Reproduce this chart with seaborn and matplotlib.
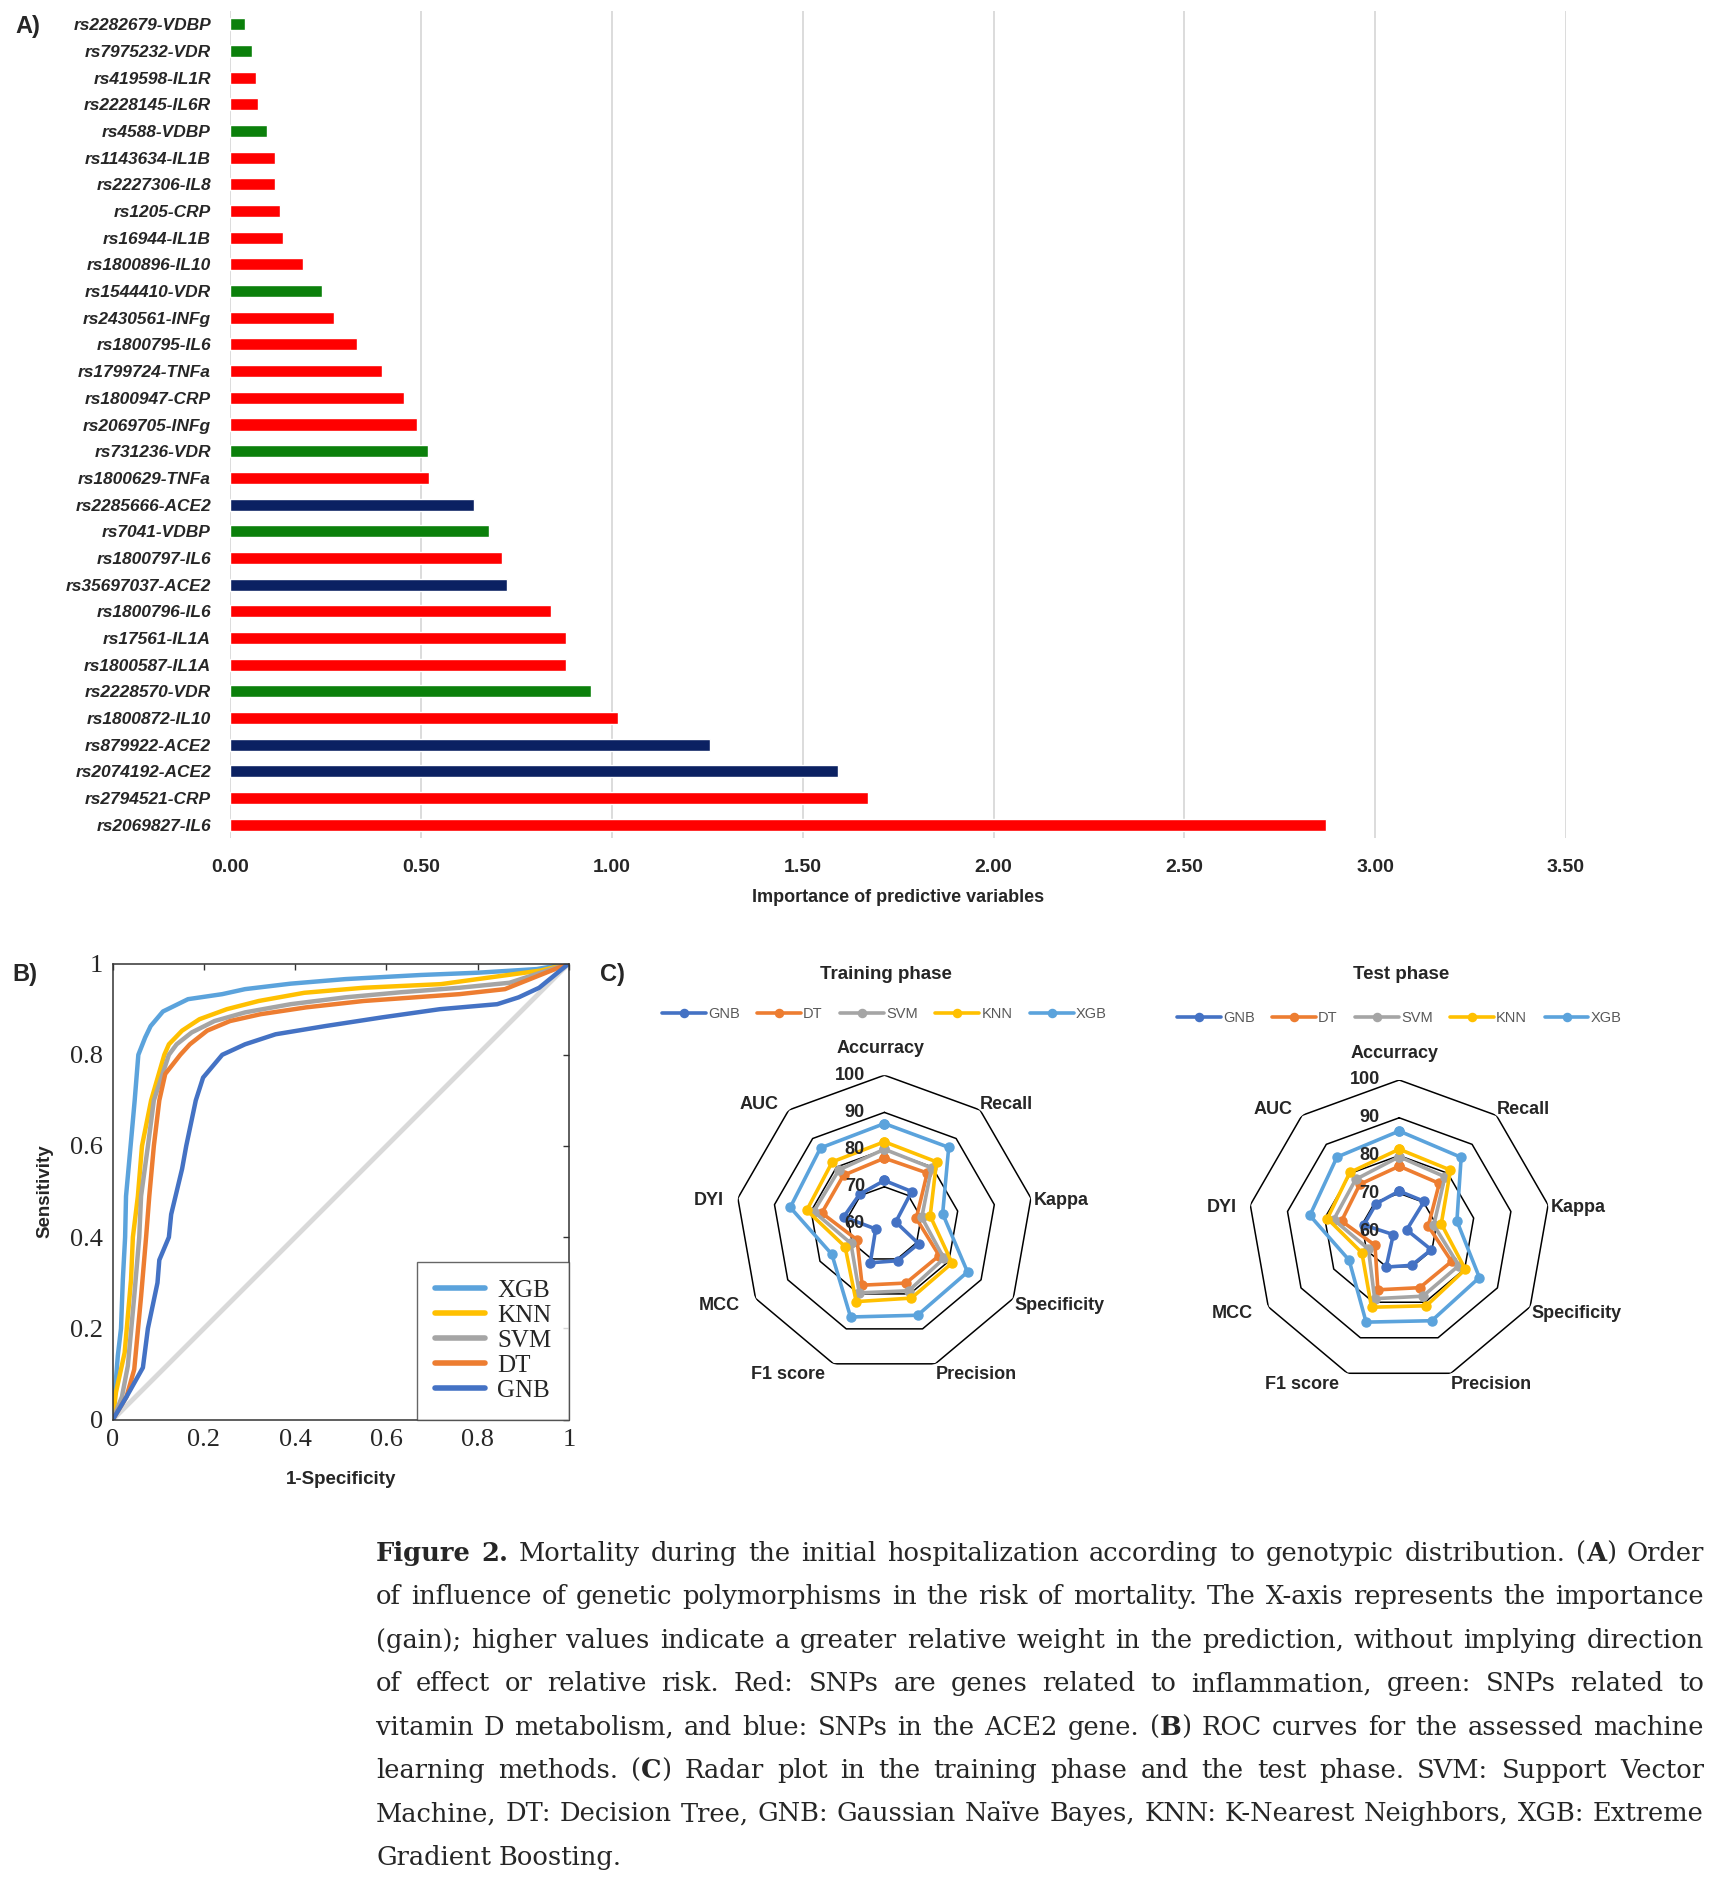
import numpy as np
import pandas as pd
import matplotlib
matplotlib.use('Agg')
import matplotlib.pyplot as plt
import seaborn as sns

# ---------------- data ----------------
snps = ['rs2282679-VDBP', 'rs7975232-VDR', 'rs419598-IL1R', 'rs2228145-IL6R', 'rs4588-VDBP',
        'rs1143634-IL1B', 'rs2227306-IL8', 'rs1205-CRP', 'rs16944-IL1B', 'rs1800896-IL10',
        'rs1544410-VDR', 'rs2430561-INFg', 'rs1800795-IL6', 'rs1799724-TNFa', 'rs1800947-CRP',
        'rs2069705-INFg', 'rs731236-VDR', 'rs1800629-TNFa', 'rs2285666-ACE2', 'rs7041-VDBP',
        'rs1800797-IL6', 'rs35697037-ACE2', 'rs1800796-IL6', 'rs17561-IL1A', 'rs1800587-IL1A',
        'rs2228570-VDR', 'rs1800872-IL10', 'rs879922-ACE2', 'rs2074192-ACE2', 'rs2794521-CRP',
        'rs2069827-IL6']
importance = [0.038, 0.057, 0.066, 0.073, 0.096, 0.118, 0.118, 0.131, 0.137, 0.189,
              0.241, 0.272, 0.331, 0.398, 0.454, 0.489, 0.519, 0.521, 0.638, 0.678,
              0.712, 0.724, 0.839, 0.880, 0.880, 0.944, 1.016, 1.258, 1.592, 1.670,
              2.871]
groups = ['vitD', 'vitD', 'infl', 'infl', 'vitD', 'infl', 'infl', 'infl', 'infl', 'infl',
          'vitD', 'infl', 'infl', 'infl', 'infl', 'infl', 'vitD', 'infl', 'ace2', 'vitD',
          'infl', 'ace2', 'infl', 'infl', 'infl', 'vitD', 'infl', 'ace2', 'ace2', 'infl',
          'infl']
group_colors = {'infl': '#FF0000', 'vitD': '#0B800B', 'ace2': '#0B2162'}

roc_fpr = {
    'XGB': [0, 0.011, 0.018, 0.022, 0.027, 0.029, 0.039, 0.048, 0.056, 0.071, 0.083, 0.11,
            0.165, 0.24, 0.29, 0.39, 0.51, 0.675, 0.80, 0.93, 1.0],
    'KNN': [0, 0.007, 0.026, 0.04, 0.044, 0.055, 0.064, 0.084, 0.113, 0.123, 0.152, 0.19,
            0.25, 0.32, 0.42, 0.55, 0.72, 0.80, 0.94, 1.0],
    'SVM': [0, 0.02, 0.033, 0.047, 0.058, 0.062, 0.077, 0.09, 0.123, 0.14, 0.173, 0.223,
            0.29, 0.39, 0.51, 0.63, 0.76, 0.87, 1.0],
    'DT': [0, 0.03, 0.047, 0.062, 0.073, 0.08, 0.09, 0.102, 0.115, 0.148, 0.169, 0.207,
           0.257, 0.324, 0.424, 0.55, 0.76, 0.86, 1.0],
    'GNB': [0, 0.03, 0.066, 0.077, 0.098, 0.102, 0.123, 0.128, 0.14, 0.152, 0.161, 0.182,
            0.198, 0.24, 0.29, 0.357, 0.466, 0.59, 0.717, 0.843, 0.89, 0.935, 1.0],
}
roc_tpr = {
    'XGB': [0, 0.14, 0.2, 0.307, 0.4, 0.49, 0.6, 0.7, 0.8, 0.838, 0.863, 0.895,
            0.922, 0.933, 0.944, 0.956, 0.966, 0.975, 0.98, 0.988, 1.0],
    'KNN': [0, 0.06, 0.147, 0.307, 0.4, 0.49, 0.6, 0.7, 0.8, 0.823, 0.853, 0.878,
            0.9, 0.918, 0.936, 0.947, 0.955, 0.966, 0.985, 1.0],
    'SVM': [0, 0.05, 0.118, 0.27, 0.4, 0.49, 0.6, 0.7, 0.8, 0.823, 0.849, 0.874,
            0.893, 0.911, 0.926, 0.937, 0.947, 0.958, 1.0],
    'DT': [0, 0.05, 0.11, 0.27, 0.4, 0.49, 0.6, 0.7, 0.758, 0.8, 0.823, 0.853,
           0.874, 0.889, 0.904, 0.918, 0.933, 0.944, 1.0],
    'GNB': [0, 0.05, 0.114, 0.2, 0.3, 0.35, 0.4, 0.45, 0.5, 0.55, 0.6, 0.7,
            0.75, 0.8, 0.823, 0.845, 0.863, 0.882, 0.9, 0.911, 0.926, 0.947, 1.0],
}
roc_order = ['XGB', 'KNN', 'SVM', 'DT', 'GNB']

models = ['GNB', 'DT', 'SVM', 'KNN', 'XGB']
model_colors = {'GNB': '#4472C4', 'DT': '#ED7D31', 'SVM': '#A5A5A5',
                'KNN': '#FFC000', 'XGB': '#5BA3DC'}
metrics = ['Accurracy', 'Recall', 'Kappa', 'Specificity', 'Precision',
           'F1 score', 'MCC', 'DYI', 'AUC']
train_scores = {
    'GNB': [71.7, 71.4, 63.1, 70.6, 70.5, 71.1, 62.7, 71.1, 70.4],
    'DT': [77.7, 77.9, 68.7, 77.0, 76.9, 77.5, 68.5, 77.1, 77.1],
    'SVM': [80.1, 79.7, 70.2, 78.5, 79.1, 79.7, 70.4, 79.3, 79.0],
    'KNN': [82.1, 81.8, 72.5, 81.0, 81.2, 82.2, 72.2, 81.2, 81.8],
    'XGB': [87.0, 86.9, 75.9, 85.8, 86.1, 86.6, 76.3, 85.7, 86.7],
}
test_scores = {
    'GNB': [70.6, 70.3, 62.0, 69.8, 69.6, 70.1, 61.8, 69.5, 69.5],
    'DT': [77.2, 76.5, 67.8, 76.0, 75.9, 76.5, 67.4, 75.5, 76.2],
    'SVM': [79.7, 78.8, 69.3, 78.2, 78.3, 79.0, 69.4, 77.6, 77.9],
    'KNN': [81.7, 81.1, 71.3, 80.2, 81.0, 81.4, 71.4, 79.3, 80.3],
    'XGB': [86.5, 85.5, 75.5, 84.5, 85.2, 85.6, 75.3, 84.0, 85.6],
}
radial_ticks = [60, 70, 80, 90, 100]

caption_lines = [
    "**Figure 2.** Mortality during the initial hospitalization according to genotypic distribution. (**A**) Order",
    "of influence of genetic polymorphisms in the risk of mortality. The X-axis represents the importance",
    "(gain); higher values indicate a greater relative weight in the prediction, without implying direction",
    "of effect or relative risk.  Red:  SNPs are genes related to inflammation, green:  SNPs related to",
    "vitamin D metabolism, and blue: SNPs in the ACE2 gene. (**B**) ROC curves for the assessed machine",
    "learning methods.  (**C**) Radar plot in the training phase and the test phase.  SVM: Support Vector",
    "Machine, DT: Decision Tree, GNB: Gaussian Na\u00efve Bayes, KNN: K-Nearest Neighbors, XGB: Extreme",
    "Gradient Boosting.",
]

# ---------------- style ----------------
sns.set_style('white')
SANS = ['Liberation Sans', 'DejaVu Sans']
SERIF = ['Liberation Serif', 'DejaVu Serif']
CAP_SERIF = ['DejaVu Serif']
plt.rcParams['font.family'] = SANS

FIG_W, FIG_H = 1728, 1886
W, H = 1440.0, FIG_H / 1.2   # layout measured on a 1440-wide copy


def fx(x):
    return x / W


def fy(y):
    return 1 - y / H


fig = plt.figure(figsize=(FIG_W / 100, FIG_H / 100), dpi=100)
fig.patch.set_facecolor('white')

# ---------------- A) importance bars ----------------
ax_a = fig.add_axes([fx(192), fy(698.5), fx(1305) - fx(192), fy(9) - fy(698.5)])
sns.barplot(x=importance, y=snps, hue=groups, palette=group_colors, dodge=False,
            width=0.45, saturation=1, legend=False, ax=ax_a)
ax_a.set_xlim(0, 3.5)
ax_a.set_ylim(30.5, -0.5)
xt = np.arange(0, 3.51, 0.5)
ax_a.set_xticks(xt)
ax_a.set_xticklabels([f'{v:.2f}' for v in xt], fontweight='bold', fontsize=14)
ax_a.set_yticks(range(len(snps)))
ax_a.set_yticklabels(snps, fontweight='bold', fontstyle='italic', fontsize=12.5)
ax_a.tick_params(axis='x', length=0, pad=15)
ax_a.tick_params(axis='y', length=0, pad=14)
ax_a.xaxis.grid(True, color='#D9D9D9', lw=1.3)
ax_a.set_axisbelow(True)
for s in ax_a.spines.values():
    s.set_visible(False)
ax_a.set_xlabel('Importance of predictive variables', fontweight='bold', fontsize=13, labelpad=9)
ax_a.set_ylabel('')
fig.text(fx(13), fy(22), 'A)', fontsize=17, fontweight='bold', va='center')

# ---------------- B) ROC ----------------
ax_b = fig.add_axes([fx(94), fy(1183), fx(474) - fx(94), fy(803) - fy(1183)])
roc_df = pd.concat([pd.DataFrame({'fpr': roc_fpr[m], 'tpr': roc_tpr[m], 'model': m})
                    for m in roc_order], ignore_index=True)
ax_b.plot([0, 1], [0, 1], color='#D9D9D9', lw=3.5, zorder=1)
sns.lineplot(data=roc_df, x='fpr', y='tpr', hue='model', hue_order=roc_order,
             palette=model_colors, sort=False, estimator=None, lw=3.2, ax=ax_b)
ax_b.set_xlim(0, 1)
ax_b.set_ylim(0, 1)
ticks = [0, 0.2, 0.4, 0.6, 0.8, 1]
tick_lbl = ['0', '0.2', '0.4', '0.6', '0.8', '1']
ax_b.set_xticks(ticks)
ax_b.set_yticks(ticks)
ax_b.set_xticklabels(tick_lbl, family=SERIF, fontsize=19)
ax_b.set_yticklabels(tick_lbl, family=SERIF, fontsize=19)
ax_b.tick_params(direction='in', length=4.5, width=1, top=True, right=True,
                 color='#333333', pad=7)
for s in ax_b.spines.values():
    s.set_color('#333333')
    s.set_linewidth(1.1)
ax_b.set_xlabel('1-Specificity', fontweight='bold', fontsize=13.5, labelpad=14)
ax_b.set_ylabel('Sensitivity', fontweight='bold', fontsize=13.5, labelpad=12)
h, l = ax_b.get_legend_handles_labels()
leg = ax_b.legend(h, l, loc='lower right', bbox_to_anchor=(1, 0), borderaxespad=0,
                  frameon=True, fancybox=False, edgecolor='#404040',
                  prop={'family': SERIF, 'size': 18}, labelspacing=0.1,
                  handlelength=2.0, handletextpad=0.5, borderpad=0.7)
leg.get_frame().set_linewidth(1.0)
for ln in leg.get_lines():
    ln.set_linewidth(4)
fig.text(fx(10), fy(812), 'B)', fontsize=17, fontweight='bold', va='center')

# ---------------- C) radar plots ----------------
angles = np.arange(len(metrics)) * 2 * np.pi / len(metrics)
label_style = {
    'Accurracy': ('center', (-3, 19)),
    'Recall': ('left', (0, 4)),
    'Kappa': ('left', (2, -2)),
    'Specificity': ('left', (1, -5)),
    'Precision': ('left', (0, -8)),
    'F1 score': ('right', (-6, -8)),
    'MCC': ('right', (-11, -5)),
    'DYI': ('right', (-10, -2)),
    'AUC': ('right', (-7, 4)),
}


def radar(rect, scores, title, cx):
    ax = fig.add_axes(rect, projection='polar')
    ax.set_facecolor('none')
    ax.set_theta_zero_location('N')
    ax.set_theta_direction(-1)
    ax.set_ylim(60, 100)
    ax.grid(False)
    ax.spines['polar'].set_visible(False)
    ax.set_xticks([])
    ax.set_yticks([])
    th = np.append(angles, angles[0])
    for ring in radial_ticks[1:]:
        ax.plot(th, [ring] * len(th), color='black', lw=1.1, zorder=1)
    for m in models:
        v = scores[m]
        ax.plot(th, v + v[:1], color=model_colors[m], lw=2.6, marker='o', ms=6.5,
                label=m, zorder=3, clip_on=False)
    for k, name in enumerate(metrics):
        ha, off = label_style[name]
        ax.annotate(name, xy=(angles[k], 100), xytext=off, textcoords='offset points',
                    ha=ha, va='center', fontsize=13, fontweight='bold',
                    annotation_clip=False)
    for r in radial_ticks:
        ax.annotate(str(r), xy=(0, r), xytext=(-14, 0), textcoords='offset points',
                    ha='right', va='center', fontsize=13, fontweight='bold',
                    annotation_clip=False, zorder=5)
    ax.legend(loc='center', bbox_to_anchor=(0.5, 1.205), ncol=5, frameon=False,
              fontsize=10.5, handlelength=3.0, columnspacing=1.2, handletextpad=0.15,
              labelcolor='#595959', markerscale=0.9)
    fig.text(fx(cx), fy(812), title, ha='center', va='center', fontsize=13.5,
             fontweight='bold')
    return ax


radar([fx(613), fy(1144), fx(861) - fx(613), fy(896) - fy(1144)],
      train_scores, 'Training phase', 738)
radar([fx(1040), fy(1152), fx(1292) - fx(1040), fy(900) - fy(1152)],
      test_scores, 'Test phase', 1168)
fig.text(fx(500), fy(812), 'C)', fontsize=17, fontweight='bold', va='center')


# ---------------- caption (justified) ----------------
def parse(line):
    words = [[]]
    for i, part in enumerate(line.split('**')):
        bold = i % 2 == 1
        for j, piece in enumerate(part.split(' ')):
            if j > 0:
                words.append([])
            if piece:
                words[-1].append((piece, bold))
    return [w for w in words if w]


fig.canvas.draw()
renderer = fig.canvas.get_renderer()
cap_size = 18.5
x0, x1 = 376, 1704
for i, line in enumerate(caption_lines):
    words = parse(line)
    base = 1561 + i * 43.4
    items, widths = [], []
    for w in words:
        segs, wsum = [], 0
        for text, b in w:
            t = fig.text(0, 0, text, fontsize=cap_size, family=CAP_SERIF,
                         fontweight='bold' if b else 'normal', va='baseline', ha='left')
            bw = t.get_window_extent(renderer).width
            segs.append((t, bw))
            wsum += bw
        items.append(segs)
        widths.append(wsum)
    if i < len(caption_lines) - 1 and len(words) > 1:
        gap = (x1 - x0 - sum(widths)) / (len(words) - 1)
    else:
        gap = cap_size * 100 / 72 * 0.3
    x = x0
    for segs in items:
        for t, bw in segs:
            t.set_position((x / FIG_W, 1 - base / FIG_H))
            x += bw
        x += gap

fig.savefig('out.png', dpi=100, facecolor='white')
